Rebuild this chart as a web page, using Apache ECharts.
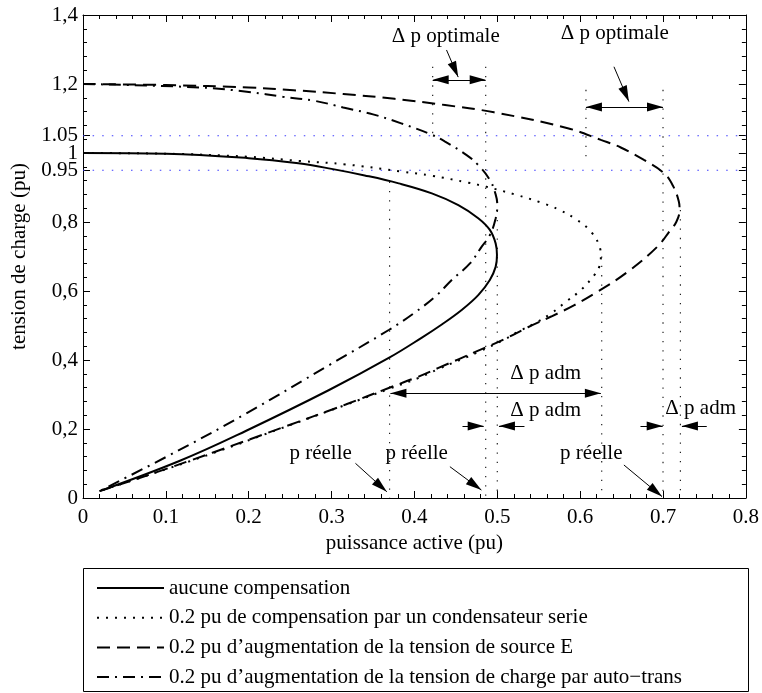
<!DOCTYPE html>
<html><head><meta charset="utf-8">
<script src="https://cdn.jsdelivr.net/npm/echarts@6/dist/echarts.min.js"></script>
<style>html,body{margin:0;padding:0;background:#fff}#c{width:762px;height:693px}</style>
</head><body><div id="c"></div>
<script>
// ---- data ----
const seriesNames = [
  'aucune compensation',
  '0.2 pu de compensation par un condensateur serie',
  '0.2 pu d\u2019augmentation de la tension de source E',
  '0.2 pu d\u2019augmentation de la tension de charge par auto\u2212trans'
];
// solid : no compensation
const noneP = [0, 0.1, 0.2, 0.26, 0.3, 0.34, 0.381, 0.421, 0.453, 0.477, 0.491, 0.498, 0.4996, 0.498, 0.491, 0.477, 0.457, 0.433, 0.409, 0.369, 0.297, 0.197, 0.117, 0.02];
const noneV = [1.0, 0.998, 0.985, 0.97, 0.954, 0.935, 0.912, 0.883, 0.849, 0.811, 0.777, 0.738, 0.704, 0.670, 0.632, 0.588, 0.545, 0.503, 0.465, 0.406, 0.313, 0.195, 0.108, 0.02];
// dotted : series capacitor
const serieP = [0, 0.1, 0.2, 0.261, 0.317, 0.385, 0.421, 0.465, 0.487, 0.521, 0.553, 0.575, 0.595, 0.613, 0.624, 0.625, 0.623, 0.617, 0.601, 0.583, 0.565, 0.545, 0.525, 0.509, 0.477, 0.429, 0.405, 0.369, 0.317, 0.237, 0.157, 0.077, 0.02];
const serieV = [1.0, 0.998, 0.989, 0.977, 0.967, 0.946, 0.934, 0.914, 0.902, 0.88, 0.856, 0.835, 0.808, 0.772, 0.724, 0.70, 0.67, 0.646, 0.603, 0.569, 0.535, 0.506, 0.482, 0.46, 0.423, 0.374, 0.348, 0.316, 0.27, 0.2, 0.13, 0.065, 0.02];
// dashed : source voltage +0.2
const sourceP = [0, 0.1, 0.2, 0.254, 0.314, 0.376, 0.437, 0.496, 0.585, 0.625, 0.649, 0.677, 0.701, 0.712, 0.719, 0.72, 0.716, 0.709, 0.693, 0.657, 0.621, 0.593, 0.565, 0.537, 0.509, 0.477, 0.429, 0.405, 0.369, 0.317, 0.237, 0.157, 0.077, 0.02];
const sourceV = [1.2, 1.197, 1.19, 1.182, 1.171, 1.157, 1.139, 1.118, 1.072, 1.038, 1.016, 0.98, 0.942, 0.905, 0.86, 0.835, 0.80, 0.777, 0.728, 0.655, 0.598, 0.559, 0.526, 0.495, 0.461, 0.427, 0.377, 0.352, 0.319, 0.271, 0.201, 0.132, 0.065, 0.02];
// dash-dot : load voltage via auto-transformer
const autoP = [0, 0.141, 0.2, 0.241, 0.28, 0.314, 0.35, 0.384, 0.42, 0.437, 0.463, 0.477, 0.491, 0.498, 0.5, 0.498, 0.491, 0.481, 0.467, 0.445, 0.427, 0.399, 0.369, 0.297, 0.197, 0.117, 0.02];
const autoV = [1.2, 1.19, 1.177, 1.163, 1.151, 1.132, 1.112, 1.086, 1.054, 1.033, 0.994, 0.965, 0.922, 0.88, 0.85, 0.81, 0.762, 0.728, 0.68, 0.632, 0.588, 0.535, 0.487, 0.385, 0.245, 0.14, 0.02];

const xTickValues = [0, 0.1, 0.2, 0.3, 0.4, 0.5, 0.6, 0.7, 0.8];
const xTickLabels = ['0', '0.1', '0.2', '0.3', '0.4', '0.5', '0.6', '0.7', '0.8'];
const yTickValues = [0, 0.2, 0.4, 0.6, 0.8, 0.95, 1, 1.05, 1.2, 1.4];
const yTickLabels = ['0', '0,2', '0,4', '0,6', '0,8', '0.95', '1', '1.05', '1,2', '1,4'];

const limitValues = [0.95, 1.05];

// vertical dotted guides
const guideP      = [0.37, 0.422, 0.486, 0.5, 0.607, 0.626, 0.7, 0.721];
const guideTop    = [0.917, 1.25, 1.25, 0.86, 1.183, 0.70, 1.183, 0.835];
const guideBottom = [0, 1.05, 0, 0, 0.99, 0, 0, 0];

// double-headed arrows
const dblFromP = [0.422, 0.607, 0.371];
const dblToP   = [0.486, 0.700, 0.625];
const dblV     = [1.212, 1.133, 0.3035];

// single-headed arrows (tail -> head)
const arrFromP = [0.4387, 0.6408, 0.458, 0.5328, 0.6728, 0.7528, 0.3288, 0.4428, 0.6528];
const arrFromV = [1.2986, 1.250, 0.2087, 0.2087, 0.2087, 0.2087, 0.1005, 0.0908, 0.0957];
const arrToP   = [0.4528, 0.6588, 0.4836, 0.502, 0.6996, 0.7228, 0.3667, 0.4808, 0.6988];
const arrToV   = [1.220, 1.149, 0.2087, 0.2087, 0.2087, 0.2087, 0.018, 0.023, 0.004];

// annotation texts
const noteTexts = ['\u0394 p optimale', '\u0394 p optimale', '\u0394 p adm', '\u0394 p adm', '\u0394 p adm', 'p r\u00e9elle', 'p r\u00e9elle', 'p r\u00e9elle'];
const noteP = [0.4378, 0.6418, 0.5584, 0.5584, 0.7454, 0.2868, 0.4028, 0.6134];
const noteV = [1.337, 1.3469, 0.3614, 0.253, 0.26, 0.1295, 0.1295, 0.1295];

// ---- chart ----
const FONT = 'Liberation Serif';
const zip = (a, b) => a.map((v, i) => [v, b[i]]);
const pick = (vals, labels) => v => {
  for (let i = 0; i < vals.length; i++) if (Math.abs(v - vals[i]) < 1e-6) return labels[i];
  return '';
};
const txt = {fontFamily: FONT, fontSize: 21, color: '#000'};

function xAx(pos, showLabel) {
  return {
    type: 'value', position: pos, min: 0, max: 0.8, interval: 0.1,
    axisLine: {show: true, onZero: false, lineStyle: {color: '#000', width: 1}},
    axisTick: {show: true, inside: true, length: 7, lineStyle: {color: '#000'}},
    minorTick: {show: true, splitNumber: 5, length: 4, lineStyle: {color: '#000'}},
    splitLine: {show: false}, minorSplitLine: {show: false},
    axisLabel: Object.assign({show: showLabel, margin: 9, formatter: pick(xTickValues, xTickLabels)}, txt),
    name: showLabel ? 'puissance active (pu)' : '',
    nameLocation: 'middle', nameGap: 35, nameTextStyle: txt
  };
}
function yAx(pos, showLabel) {
  return {
    type: 'value', position: pos, min: 0, max: 1.4, interval: 0.2,
    axisLine: {show: true, onZero: false, lineStyle: {color: '#000', width: 1}},
    axisTick: {show: true, inside: true, length: 7, customValues: yTickValues, lineStyle: {color: '#000'}},
    minorTick: {show: true, splitNumber: 5, length: 4, lineStyle: {color: '#000'}},
    splitLine: {show: false}, minorSplitLine: {show: false},
    axisLabel: Object.assign({show: showLabel, margin: 5, customValues: yTickValues, formatter: pick(yTickValues, yTickLabels)}, txt),
    name: showLabel ? 'tension de charge (pu)' : '',
    nameLocation: 'middle', nameGap: 50, nameRotate: 90, nameTextStyle: txt
  };
}

const curveStyles = [
  {type: 'solid', width: 2},
  {type: [2, 7], width: 2},
  {type: [13, 7], width: 2},
  {type: [12, 6, 2, 6], width: 2}
];
const curveData = [zip(noneP, noneV), zip(serieP, serieV), zip(sourceP, sourceV), zip(autoP, autoV)];

const series = [];
limitValues.forEach(v => series.push({
  type: 'line', silent: true, symbol: 'none', data: [[0, v], [0.8, v]],
  lineStyle: {color: '#3c3cff', width: 1.2, type: [1.5, 8.1]}, z: 1
}));
guideP.forEach((p, i) => series.push({
  type: 'line', silent: true, symbol: 'none', data: [[p, guideTop[i]], [p, guideBottom[i]]],
  lineStyle: {color: '#222', width: 1.2, type: [1.3, 8]}, z: 1
}));
seriesNames.forEach((n, i) => series.push({
  name: n, type: 'line', symbol: 'none', showSymbol: false, smooth: 0.4,
  data: curveData[i], lineStyle: Object.assign({color: '#000'}, curveStyles[i]),
  itemStyle: {color: '#000'}, z: 3
}));

const HEAD = [9, 16];
const mlData = [];
dblFromP.forEach((p, i) => mlData.push([
  {coord: [p, dblV[i]], symbol: 'triangle', symbolSize: HEAD, symbolOffset: [0, HEAD[1] / 2]},
  {coord: [dblToP[i], dblV[i]], symbol: 'triangle', symbolSize: HEAD, symbolOffset: [0, HEAD[1] / 2]}
]));
arrFromP.forEach((p, i) => mlData.push([
  {coord: [p, arrFromV[i]], symbol: 'none'},
  {coord: [arrToP[i], arrToV[i]], symbol: 'triangle', symbolSize: HEAD, symbolOffset: [0, HEAD[1] / 2]}
]));

series.push({
  type: 'scatter', silent: true, symbolSize: 1,
  itemStyle: {color: 'rgba(0,0,0,0)', opacity: 1},
  data: noteTexts.map((t, i) => ({name: t, value: [noteP[i], noteV[i]]})),
  label: Object.assign({show: true, position: [0.5, 0.5], align: 'center', verticalAlign: 'middle', formatter: '{b}', opacity: 1, textBorderWidth: 0}, txt),
  markLine: {
    silent: true, animation: false, symbol: ['none', 'none'],
    label: {show: false}, lineStyle: {color: '#000', width: 1, type: 'solid', opacity: 1},
    emphasis: {disabled: true},
    data: mlData
  },
  z: 4
});

const chart = echarts.init(document.getElementById('c'), null, {renderer: 'canvas'});
chart.setOption({
  animation: false,
  backgroundColor: '#fff',
  grid: {left: 83, right: 13, top: 15, bottom: 195},
  xAxis: [xAx('bottom', true), xAx('top', false)],
  yAxis: [yAx('left', true), yAx('right', false)],
  legend: {
    data: seriesNames, orient: 'vertical', left: 96, top: 577, height: 116, padding: 0,
    itemWidth: 67, itemHeight: 14, itemGap: 7.7, selectedMode: false,
    itemStyle: {opacity: 0, color: 'rgba(0,0,0,0)', borderWidth: 0},
    textStyle: Object.assign({lineHeight: 22}, txt)
  },
  graphic: [{
    type: 'rect', silent: true,
    shape: {x: 83.5, y: 568.5, width: 665, height: 123},
    style: {fill: 'none', stroke: '#000', lineWidth: 1}
  }],
  series: series
});
</script>
</body></html>
